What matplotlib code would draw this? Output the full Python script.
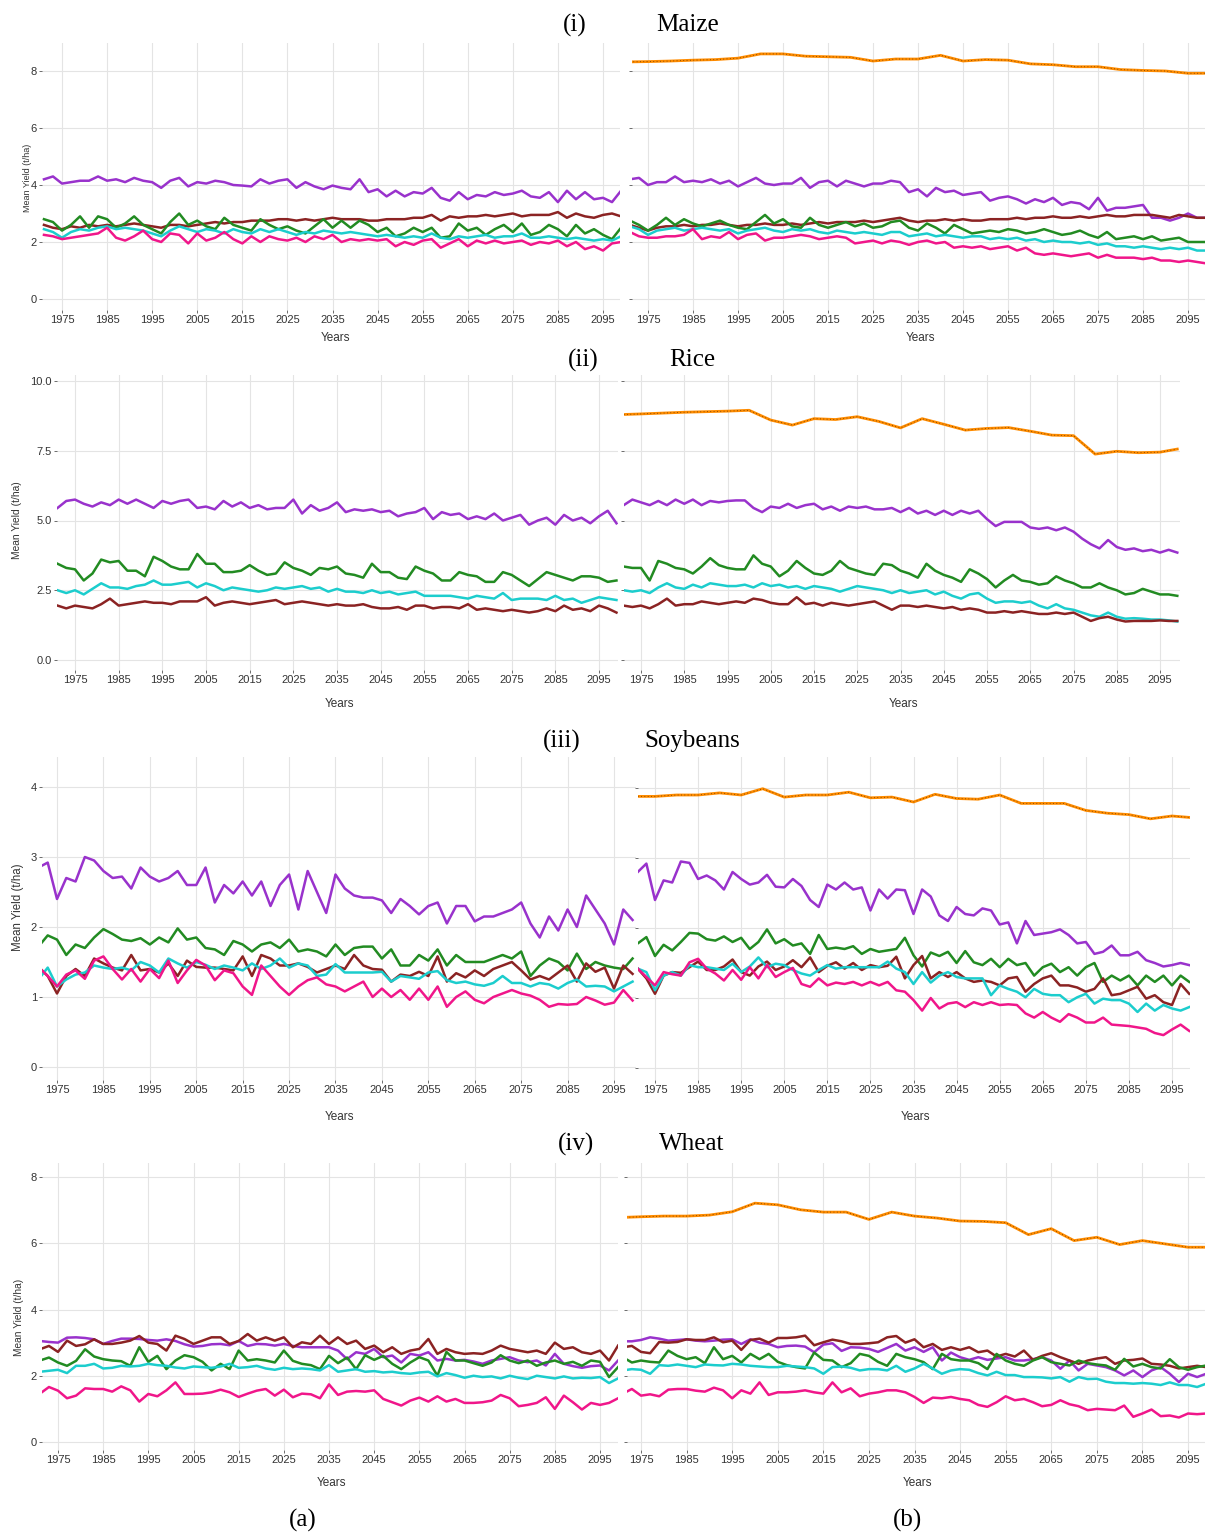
import matplotlib
matplotlib.use("Agg")
import matplotlib.pyplot as plt

plt.rcParams["font.family"] = ["Liberation Sans", "DejaVu Sans"]

W, H = 1205, 1532

YEARS = list(range(1971, 2100, 2))
ORANGE_YEARS = [1971, 1975, 1980, 1985, 1990, 1995, 2000, 2005, 2010, 2015,
                2020, 2025, 2030, 2035, 2040, 2045, 2050, 2055, 2060, 2065,
                2070, 2075, 2080, 2085, 2090, 2095, 2099]
DECADE_TICKS = list(range(1975, 2100, 10))

PURPLE = "#9932CC"
BROWN = "#8B2323"
GREEN = "#228B22"
CYAN = "#1CCDCD"
PINK = "#F0168A"
ORANGE = "#FF8C00"

# ---- Maize ----
maize_a_purple = [4.2, 4.3, 4.05, 4.1, 4.15, 4.15, 4.3, 4.15, 4.2, 4.1,
                  4.25, 4.15, 4.1, 3.9, 4.15, 4.25, 3.95, 4.1, 4.05, 4.15,
                  4.1, 4.0, 3.98, 3.95, 4.2, 4.05, 4.15, 4.2, 3.9, 4.1,
                  3.95, 3.85, 3.98, 3.9, 3.85, 4.2, 3.75, 3.85, 3.6, 3.8,
                  3.6, 3.75, 3.7, 3.9, 3.55, 3.45, 3.75, 3.5, 3.65, 3.6,
                  3.75, 3.65, 3.7, 3.8, 3.6, 3.55, 3.75, 3.4, 3.8, 3.5,
                  3.75, 3.5, 3.55, 3.4, 3.8]
maize_a_brown = [2.6, 2.5, 2.45, 2.55, 2.5, 2.6, 2.55, 2.6, 2.55, 2.6,
                 2.65, 2.6, 2.55, 2.5, 2.6, 2.6, 2.55, 2.6, 2.65, 2.7,
                 2.65, 2.7, 2.7, 2.75, 2.75, 2.75, 2.8, 2.8, 2.75, 2.8,
                 2.75, 2.8, 2.85, 2.8, 2.8, 2.8, 2.75, 2.75, 2.8, 2.8,
                 2.8, 2.85, 2.85, 2.95, 2.75, 2.9, 2.85, 2.9, 2.9, 2.95,
                 2.9, 2.95, 3.0, 2.9, 2.95, 2.95, 2.95, 3.05, 2.85, 3.0,
                 2.9, 2.85, 2.95, 3.0, 2.9]
maize_a_green = [2.8, 2.7, 2.4, 2.6, 2.9, 2.5, 2.9, 2.8, 2.5, 2.65,
                 2.9, 2.6, 2.45, 2.3, 2.7, 3.0, 2.6, 2.75, 2.55, 2.45,
                 2.85, 2.6, 2.5, 2.4, 2.8, 2.6, 2.45, 2.55, 2.4, 2.3,
                 2.55, 2.8, 2.5, 2.75, 2.5, 2.75, 2.6, 2.35, 2.5, 2.2,
                 2.3, 2.5, 2.35, 2.5, 2.15, 2.2, 2.65, 2.4, 2.5, 2.25,
                 2.45, 2.6, 2.35, 2.65, 2.25, 2.35, 2.6, 2.45, 2.2, 2.6,
                 2.3, 2.45, 2.25, 2.1, 2.5]
maize_a_cyan = [2.45, 2.35, 2.15, 2.35, 2.45, 2.4, 2.5, 2.55, 2.45, 2.5,
                2.45, 2.4, 2.3, 2.2, 2.4, 2.55, 2.45, 2.35, 2.45, 2.4,
                2.3, 2.45, 2.35, 2.3, 2.45, 2.35, 2.45, 2.35, 2.25, 2.35,
                2.3, 2.4, 2.35, 2.3, 2.35, 2.3, 2.25, 2.2, 2.25, 2.2,
                2.15, 2.2, 2.15, 2.3, 2.15, 2.1, 2.2, 2.15, 2.2, 2.25,
                2.15, 2.2, 2.2, 2.3, 2.15, 2.15, 2.2, 2.15, 2.1, 2.15,
                2.1, 2.05, 2.1, 2.05, 2.2]
maize_a_pink = [2.25, 2.2, 2.1, 2.15, 2.2, 2.25, 2.3, 2.5, 2.15, 2.05,
                2.2, 2.4, 2.1, 2.0, 2.3, 2.25, 1.95, 2.3, 2.05, 2.15,
                2.35, 2.1, 1.95, 2.2, 2.0, 2.2, 2.1, 2.05, 2.15, 2.0,
                2.2, 2.1, 2.25, 2.0, 2.1, 2.05, 2.1, 2.05, 2.1, 1.85,
                2.0, 1.9, 2.05, 2.1, 1.8, 1.95, 2.1, 1.85, 2.05, 1.95,
                2.05, 1.95, 2.0, 2.05, 1.9, 2.0, 1.95, 2.05, 1.85, 2.0,
                1.75, 1.85, 1.7, 1.95, 2.0]

maize_b_orange = [8.32, 8.33, 8.35, 8.38, 8.4, 8.45, 8.6, 8.6, 8.52, 8.5,
                  8.48, 8.35, 8.42, 8.42, 8.55, 8.35, 8.4, 8.38, 8.25, 8.22,
                  8.15, 8.15, 8.05, 8.02, 8.0, 7.92, 7.92]
maize_b_purple = [4.2, 4.25, 4.0, 4.1, 4.1, 4.3, 4.1, 4.15, 4.1, 4.2,
                  4.05, 4.15, 3.95, 4.1, 4.25, 4.05, 4.0, 4.05, 4.05, 4.25,
                  3.9, 4.1, 4.15, 3.95, 4.15, 4.05, 3.95, 4.05, 4.05, 4.15,
                  4.1, 3.75, 3.85, 3.6, 3.9, 3.75, 3.8, 3.65, 3.7, 3.75,
                  3.45, 3.55, 3.6, 3.5, 3.35, 3.5, 3.4, 3.55, 3.3, 3.4,
                  3.35, 3.15, 3.55, 3.1, 3.2, 3.2, 3.25, 3.3, 2.85, 2.85,
                  2.75, 2.85, 3.0, 2.85, 2.85]
maize_b_brown = [2.6, 2.5, 2.4, 2.5, 2.55, 2.55, 2.6, 2.55, 2.6, 2.6,
                 2.65, 2.6, 2.55, 2.6, 2.6, 2.65, 2.6, 2.6, 2.65, 2.6,
                 2.65, 2.7, 2.65, 2.7, 2.7, 2.7, 2.75, 2.7, 2.75, 2.8,
                 2.85, 2.75, 2.7, 2.75, 2.75, 2.8, 2.75, 2.8, 2.75, 2.75,
                 2.8, 2.8, 2.8, 2.85, 2.8, 2.85, 2.85, 2.9, 2.85, 2.85,
                 2.9, 2.85, 2.9, 2.95, 2.9, 2.9, 2.95, 2.95, 2.95, 2.9,
                 2.85, 2.95, 2.9, 2.85, 2.85]
maize_b_green = [2.75, 2.6, 2.4, 2.6, 2.85, 2.6, 2.8, 2.65, 2.55, 2.65,
                 2.75, 2.6, 2.5, 2.45, 2.7, 2.95, 2.65, 2.8, 2.55, 2.5,
                 2.85, 2.6, 2.5, 2.6, 2.7, 2.55, 2.65, 2.5, 2.55, 2.7,
                 2.75, 2.5, 2.4, 2.65, 2.5, 2.3, 2.6, 2.45, 2.3, 2.35,
                 2.4, 2.35, 2.45, 2.4, 2.3, 2.35, 2.45, 2.35, 2.25, 2.3,
                 2.4, 2.25, 2.15, 2.35, 2.1, 2.15, 2.2, 2.1, 2.2, 2.05,
                 2.1, 2.15, 2.0, 2.0, 2.0]
maize_b_cyan = [2.55, 2.45, 2.25, 2.4, 2.45, 2.5, 2.4, 2.45, 2.5, 2.45,
                2.4, 2.45, 2.3, 2.4, 2.45, 2.5, 2.4, 2.35, 2.45, 2.4,
                2.45, 2.35, 2.3, 2.4, 2.35, 2.3, 2.35, 2.3, 2.25, 2.35,
                2.35, 2.2, 2.25, 2.3, 2.2, 2.25, 2.2, 2.15, 2.2, 2.2,
                2.1, 2.15, 2.1, 2.15, 2.05, 2.1, 2.0, 2.05, 2.0, 2.0,
                1.95, 2.0, 1.9, 1.95, 1.85, 1.85, 1.8, 1.85, 1.8, 1.75,
                1.8, 1.75, 1.8, 1.7, 1.7]
maize_b_pink = [2.35, 2.2, 2.15, 2.15, 2.2, 2.2, 2.25, 2.45, 2.1, 2.2,
                2.15, 2.35, 2.1, 2.25, 2.3, 2.05, 2.15, 2.15, 2.2, 2.25,
                2.2, 2.1, 2.15, 2.2, 2.15, 1.95, 2.0, 2.05, 1.95, 2.05,
                2.0, 1.9, 2.0, 2.05, 1.95, 2.0, 1.8, 1.85, 1.8, 1.85,
                1.75, 1.8, 1.85, 1.7, 1.8, 1.6, 1.55, 1.6, 1.55, 1.5,
                1.55, 1.6, 1.45, 1.55, 1.45, 1.45, 1.45, 1.4, 1.45, 1.35,
                1.35, 1.3, 1.35, 1.3, 1.25]

# ---- Rice ----
rice_a_purple = [5.45, 5.7, 5.75, 5.6, 5.5, 5.65, 5.55, 5.75, 5.6, 5.75,
                 5.6, 5.45, 5.7, 5.6, 5.7, 5.75, 5.45, 5.5, 5.4, 5.7,
                 5.5, 5.65, 5.45, 5.55, 5.4, 5.45, 5.45, 5.75, 5.25, 5.55,
                 5.35, 5.45, 5.65, 5.3, 5.4, 5.35, 5.4, 5.3, 5.35, 5.15,
                 5.25, 5.3, 5.45, 5.05, 5.3, 5.2, 5.25, 5.05, 5.15, 5.05,
                 5.25, 5.0, 5.1, 5.2, 4.85, 5.0, 5.1, 4.85, 5.2, 5.0,
                 5.1, 4.9, 5.15, 5.35, 4.9]
rice_a_green = [3.45, 3.3, 3.25, 2.85, 3.1, 3.6, 3.5, 3.55, 3.2, 3.2,
                3.0, 3.7, 3.55, 3.35, 3.25, 3.25, 3.8, 3.45, 3.45, 3.15,
                3.15, 3.2, 3.4, 3.2, 3.05, 3.1, 3.5, 3.3, 3.2, 3.05,
                3.3, 3.25, 3.35, 3.1, 3.05, 2.95, 3.45, 3.15, 3.15, 2.95,
                2.9, 3.35, 3.2, 3.1, 2.85, 2.85, 3.15, 3.05, 3.0, 2.8,
                2.8, 3.15, 3.05, 2.85, 2.65, 2.9, 3.15, 3.05, 2.95, 2.85,
                3.0, 3.0, 2.95, 2.8, 2.85]
rice_a_cyan = [2.5, 2.4, 2.5, 2.35, 2.55, 2.75, 2.6, 2.6, 2.55, 2.65,
               2.7, 2.85, 2.7, 2.7, 2.75, 2.8, 2.6, 2.75, 2.65, 2.5,
               2.6, 2.55, 2.5, 2.45, 2.5, 2.6, 2.55, 2.6, 2.65, 2.55,
               2.6, 2.45, 2.55, 2.45, 2.45, 2.4, 2.5, 2.4, 2.45, 2.35,
               2.4, 2.45, 2.3, 2.3, 2.3, 2.3, 2.25, 2.2, 2.3, 2.25,
               2.2, 2.4, 2.15, 2.2, 2.2, 2.2, 2.15, 2.3, 2.15, 2.2,
               2.05, 2.15, 2.25, 2.2, 2.15]
rice_a_brown = [1.95, 1.85, 1.95, 1.9, 1.85, 2.0, 2.2, 1.95, 2.0, 2.05,
                2.1, 2.05, 2.05, 2.0, 2.1, 2.1, 2.1, 2.25, 1.95, 2.05,
                2.1, 2.05, 2.0, 2.05, 2.1, 2.15, 2.0, 2.05, 2.1, 2.05,
                2.0, 1.95, 2.0, 1.95, 1.95, 2.0, 1.9, 1.85, 1.85, 1.9,
                1.8, 1.95, 1.95, 1.85, 1.9, 1.9, 1.85, 2.0, 1.8, 1.85,
                1.8, 1.75, 1.8, 1.75, 1.7, 1.75, 1.85, 1.75, 1.95, 1.8,
                1.85, 1.75, 1.95, 1.85, 1.7]

rice_b_orange = [8.8, 8.82, 8.85, 8.88, 8.9, 8.92, 8.95, 8.6, 8.42, 8.65,
                 8.62, 8.72, 8.55, 8.32, 8.65, 8.45, 8.24, 8.3, 8.33, 8.2,
                 8.06, 8.04, 7.38, 7.48, 7.43, 7.45, 7.56]
rice_b_purple = [5.55, 5.75, 5.65, 5.55, 5.7, 5.55, 5.75, 5.6, 5.75, 5.55,
                 5.7, 5.65, 5.7, 5.72, 5.72, 5.45, 5.3, 5.5, 5.45, 5.6,
                 5.45, 5.55, 5.6, 5.4, 5.5, 5.35, 5.5, 5.45, 5.5, 5.4,
                 5.4, 5.45, 5.3, 5.45, 5.25, 5.35, 5.2, 5.35, 5.2, 5.35,
                 5.25, 5.35, 5.05, 4.8, 4.95, 4.95, 4.95, 4.75, 4.7, 4.75,
                 4.65, 4.75, 4.6, 4.35, 4.15, 4.0, 4.3, 4.05, 3.95, 4.0,
                 3.9, 3.95, 3.85, 3.95, 3.85]
rice_b_green = [3.35, 3.3, 3.3, 2.85, 3.55, 3.45, 3.3, 3.25, 3.1, 3.35,
                3.65, 3.4, 3.3, 3.25, 3.25, 3.75, 3.45, 3.35, 3.0, 3.2,
                3.55, 3.3, 3.1, 3.05, 3.2, 3.55, 3.3, 3.2, 3.1, 3.05,
                3.45, 3.4, 3.2, 3.1, 2.95, 3.45, 3.2, 3.05, 2.95, 2.8,
                3.25, 3.1, 2.9, 2.6, 2.85, 3.05, 2.85, 2.8, 2.7, 2.75,
                3.0, 2.85, 2.75, 2.6, 2.6, 2.75, 2.6, 2.5, 2.35, 2.4,
                2.55, 2.45, 2.35, 2.35, 2.3]
rice_b_cyan = [2.5, 2.45, 2.5, 2.4, 2.6, 2.75, 2.6, 2.55, 2.7, 2.6,
               2.75, 2.7, 2.65, 2.65, 2.7, 2.6, 2.75, 2.65, 2.7, 2.6,
               2.65, 2.55, 2.65, 2.6, 2.55, 2.45, 2.55, 2.65, 2.6, 2.55,
               2.5, 2.4, 2.5, 2.4, 2.45, 2.5, 2.35, 2.45, 2.3, 2.2,
               2.35, 2.4, 2.2, 2.05, 2.1, 2.1, 2.05, 2.1, 1.95, 1.85,
               2.0, 1.85, 1.8, 1.7, 1.6, 1.55, 1.7, 1.55, 1.48, 1.5,
               1.48, 1.45, 1.45, 1.42, 1.38]
rice_b_brown = [1.95, 1.9, 1.95, 1.85, 2.0, 2.2, 1.95, 2.0, 2.0, 2.1,
                2.05, 2.0, 2.05, 2.1, 2.05, 2.2, 2.15, 2.05, 2.0, 2.0,
                2.25, 2.0, 2.05, 1.95, 2.05, 2.0, 1.95, 2.0, 2.05, 2.1,
                1.95, 1.8, 1.95, 1.95, 1.9, 1.95, 1.9, 1.85, 1.9, 1.8,
                1.85, 1.8, 1.7, 1.7, 1.75, 1.7, 1.75, 1.7, 1.65, 1.65,
                1.7, 1.65, 1.7, 1.55, 1.4, 1.5, 1.55, 1.45, 1.38, 1.4,
                1.4, 1.4, 1.42, 1.4, 1.4]

# ---- Soybeans ----
soy_a_purple = [2.85, 2.92, 2.4, 2.7, 2.65, 3.0, 2.95, 2.8, 2.7, 2.72,
                2.55, 2.85, 2.72, 2.65, 2.7, 2.8, 2.6, 2.6, 2.85, 2.35,
                2.6, 2.48, 2.65, 2.45, 2.65, 2.3, 2.6, 2.75, 2.25, 2.8,
                2.5, 2.2, 2.75, 2.55, 2.45, 2.42, 2.42, 2.38, 2.2, 2.4,
                2.3, 2.18, 2.3, 2.35, 2.05, 2.3, 2.3, 2.08, 2.15, 2.15,
                2.2, 2.25, 2.35, 2.05, 1.85, 2.15, 1.95, 2.25, 2.0, 2.45,
                2.25, 2.05, 1.75, 2.25, 2.1]
soy_a_green = [1.72, 1.88, 1.82, 1.6, 1.75, 1.7, 1.85, 1.97, 1.9, 1.82,
               1.8, 1.84, 1.75, 1.85, 1.78, 1.98, 1.82, 1.85, 1.7, 1.68,
               1.6, 1.8, 1.75, 1.65, 1.75, 1.78, 1.7, 1.82, 1.65, 1.68,
               1.65, 1.58, 1.75, 1.6, 1.7, 1.72, 1.72, 1.55, 1.68, 1.45,
               1.45, 1.6, 1.52, 1.68, 1.45, 1.6, 1.5, 1.5, 1.5, 1.55,
               1.6, 1.55, 1.65, 1.3, 1.45, 1.55, 1.5, 1.38, 1.62, 1.4,
               1.5, 1.45, 1.42, 1.4, 1.55]
soy_a_brown = [1.43, 1.3, 1.05, 1.3, 1.4, 1.3, 1.55, 1.48, 1.42, 1.38,
               1.6, 1.38, 1.4, 1.35, 1.48, 1.3, 1.52, 1.43, 1.42, 1.42,
               1.4, 1.38, 1.58, 1.3, 1.6, 1.55, 1.45, 1.45, 1.48, 1.43,
               1.35, 1.4, 1.45, 1.4, 1.6, 1.45, 1.4, 1.39, 1.22, 1.32,
               1.3, 1.36, 1.3, 1.58, 1.22, 1.34, 1.28, 1.38, 1.3, 1.4,
               1.45, 1.5, 1.38, 1.25, 1.3, 1.25, 1.35, 1.45, 1.22, 1.48,
               1.36, 1.42, 1.12, 1.45, 1.33]
soy_a_cyan = [1.25, 1.42, 1.15, 1.25, 1.32, 1.35, 1.45, 1.42, 1.4, 1.42,
              1.38, 1.5, 1.45, 1.35, 1.55, 1.48, 1.42, 1.5, 1.46, 1.4,
              1.45, 1.42, 1.38, 1.48, 1.4, 1.45, 1.55, 1.42, 1.48, 1.45,
              1.3, 1.32, 1.47, 1.35, 1.35, 1.35, 1.35, 1.36, 1.22, 1.3,
              1.28, 1.26, 1.35, 1.37, 1.24, 1.2, 1.22, 1.18, 1.16, 1.2,
              1.3, 1.2, 1.2, 1.15, 1.2, 1.18, 1.12, 1.2, 1.25, 1.15,
              1.16, 1.15, 1.08, 1.15, 1.22]
soy_a_pink = [1.43, 1.3, 1.15, 1.32, 1.38, 1.26, 1.52, 1.58, 1.4, 1.25,
              1.4, 1.22, 1.4, 1.27, 1.52, 1.2, 1.38, 1.53, 1.45, 1.24,
              1.38, 1.34, 1.15, 1.03, 1.45, 1.3, 1.15, 1.03, 1.15, 1.24,
              1.28, 1.18, 1.15, 1.08, 1.15, 1.22, 1.0, 1.12, 1.0, 1.1,
              0.96, 1.12, 0.96, 1.15, 0.86, 1.0, 1.08, 0.96, 0.91, 1.0,
              1.05, 1.1, 1.05, 1.02, 0.96, 0.86, 0.9, 0.89, 0.9, 1.0,
              0.95, 0.89, 0.92, 1.1, 0.95]

soy_b_orange = [3.88, 3.88, 3.9, 3.9, 3.93, 3.9, 3.99, 3.87, 3.9, 3.9,
                3.94, 3.86, 3.87, 3.8, 3.91, 3.85, 3.84, 3.9, 3.78, 3.78,
                3.78, 3.68, 3.64, 3.62, 3.56, 3.6, 3.58]
soy_b_purple = [2.8, 2.92, 2.4, 2.68, 2.65, 2.95, 2.93, 2.7, 2.75, 2.68,
                2.55, 2.8, 2.7, 2.62, 2.65, 2.76, 2.59, 2.58, 2.7, 2.6,
                2.4, 2.3, 2.62, 2.55, 2.65, 2.55, 2.58, 2.25, 2.55, 2.42,
                2.55, 2.54, 2.2, 2.55, 2.45, 2.18, 2.1, 2.3, 2.2, 2.18,
                2.28, 2.25, 2.05, 2.08, 1.78, 2.1, 1.9, 1.92, 1.94, 1.98,
                1.9, 1.78, 1.8, 1.63, 1.66, 1.75, 1.61, 1.61, 1.66, 1.54,
                1.5, 1.45, 1.47, 1.5, 1.47]
soy_b_green = [1.78, 1.87, 1.6, 1.76, 1.68, 1.8, 1.93, 1.92, 1.84, 1.82,
               1.88, 1.8, 1.86, 1.7, 1.8, 1.98, 1.78, 1.84, 1.75, 1.78,
               1.63, 1.9, 1.7, 1.72, 1.7, 1.74, 1.63, 1.7, 1.66, 1.68,
               1.7, 1.86, 1.61, 1.45, 1.65, 1.6, 1.66, 1.5, 1.67, 1.51,
               1.47, 1.56, 1.44, 1.56, 1.47, 1.5, 1.32, 1.44, 1.49, 1.37,
               1.44, 1.32, 1.44, 1.5, 1.23, 1.32, 1.25, 1.32, 1.18, 1.32,
               1.23, 1.32, 1.18, 1.32, 1.23]
soy_b_brown = [1.42, 1.28, 1.06, 1.32, 1.37, 1.36, 1.44, 1.52, 1.4, 1.4,
               1.45, 1.55, 1.37, 1.32, 1.45, 1.52, 1.4, 1.45, 1.54, 1.44,
               1.58, 1.37, 1.46, 1.51, 1.42, 1.5, 1.4, 1.47, 1.44, 1.46,
               1.59, 1.28, 1.47, 1.6, 1.28, 1.37, 1.3, 1.37, 1.28, 1.23,
               1.25, 1.23, 1.18, 1.28, 1.3, 1.09, 1.2, 1.28, 1.32, 1.18,
               1.18, 1.15, 1.09, 1.13, 1.28, 1.04, 1.06, 1.11, 1.16, 0.99,
               1.04, 0.94, 0.9, 1.2, 1.06]
soy_b_cyan = [1.42, 1.37, 1.11, 1.32, 1.37, 1.32, 1.47, 1.44, 1.44, 1.42,
              1.4, 1.49, 1.37, 1.45, 1.58, 1.44, 1.49, 1.47, 1.4, 1.35,
              1.32, 1.4, 1.47, 1.42, 1.44, 1.44, 1.44, 1.44, 1.44, 1.52,
              1.42, 1.37, 1.2, 1.37, 1.22, 1.32, 1.37, 1.3, 1.28, 1.28,
              1.28, 1.04, 1.18, 1.13, 1.09, 1.01, 1.13, 1.06, 1.04, 1.04,
              0.94, 1.01, 1.06, 0.92, 0.99, 0.97, 0.97, 0.92, 0.8, 0.92,
              0.82, 0.9, 0.85, 0.82, 0.87]
soy_b_pink = [1.42, 1.3, 1.18, 1.37, 1.34, 1.32, 1.51, 1.56, 1.42, 1.35,
              1.25, 1.4, 1.26, 1.44, 1.28, 1.47, 1.3, 1.37, 1.43, 1.2,
              1.16, 1.28, 1.18, 1.22, 1.2, 1.23, 1.18, 1.23, 1.18, 1.23,
              1.11, 1.09, 0.97, 0.82, 1.0, 0.85, 0.92, 0.94, 0.87, 0.94,
              0.9, 0.94, 0.9, 0.91, 0.9, 0.78, 0.72, 0.8, 0.72, 0.66,
              0.77, 0.72, 0.65, 0.65, 0.72, 0.62, 0.61, 0.6, 0.58, 0.56,
              0.5, 0.47, 0.55, 0.62, 0.53]

# ---- Wheat ----
wheat_a_brown = [2.8, 2.9, 2.72, 3.06, 2.9, 2.95, 3.1, 2.96, 2.96, 3.0,
                 3.06, 3.2, 3.0, 2.96, 2.76, 3.21, 3.11, 2.96, 3.06, 3.16,
                 3.16, 2.96, 3.05, 3.26, 3.06, 3.16, 3.06, 3.16, 2.86, 3.01,
                 2.96, 3.21, 2.96, 3.16, 2.96, 3.06, 2.81, 2.91, 2.71, 2.86,
                 2.66, 2.76, 2.81, 3.11, 2.66, 2.81, 2.71, 2.66, 2.68, 2.66,
                 2.76, 2.91, 2.81, 2.76, 2.71, 2.76, 2.66, 3.0, 2.81, 2.86,
                 2.71, 2.66, 2.76, 2.46, 2.91]
wheat_a_purple = [3.05, 3.02, 3.0, 3.15, 3.16, 3.14, 3.1, 2.96, 3.05, 3.12,
                  3.12, 3.11, 3.08, 3.06, 3.1, 3.05, 2.95, 2.88, 2.9, 2.95,
                  2.96, 2.92, 3.05, 2.9, 2.96, 2.95, 2.91, 2.96, 2.9, 2.86,
                  2.86, 2.86, 2.86, 2.76, 2.5, 2.71, 2.66, 2.81, 2.56, 2.61,
                  2.4, 2.66, 2.61, 2.71, 2.46, 2.51, 2.46, 2.48, 2.43, 2.36,
                  2.46, 2.51, 2.56, 2.46, 2.41, 2.46, 2.31, 2.66, 2.36, 2.29,
                  2.24, 2.29, 2.31, 2.16, 2.46]
wheat_a_green = [2.46, 2.55, 2.4, 2.3, 2.45, 2.8, 2.58, 2.5, 2.46, 2.44,
                 2.3, 2.86, 2.42, 2.6, 2.2, 2.46, 2.62, 2.56, 2.42, 2.16,
                 2.36, 2.2, 2.76, 2.46, 2.5, 2.46, 2.4, 2.76, 2.45, 2.36,
                 2.32, 2.2, 2.6, 2.38, 2.55, 2.2, 2.62, 2.48, 2.6, 2.36,
                 2.2, 2.4, 2.56, 2.46, 2.0, 2.72, 2.46, 2.46, 2.38, 2.3,
                 2.4, 2.62, 2.46, 2.38, 2.46, 2.3, 2.4, 2.46, 2.36, 2.42,
                 2.3, 2.46, 2.42, 1.96, 2.26]
wheat_a_cyan = [2.12, 2.15, 2.18, 2.08, 2.3, 2.3, 2.36, 2.22, 2.24, 2.3,
                2.28, 2.3, 2.36, 2.32, 2.3, 2.25, 2.22, 2.28, 2.26, 2.24,
                2.28, 2.36, 2.24, 2.26, 2.3, 2.22, 2.18, 2.24, 2.2, 2.22,
                2.2, 2.16, 2.32, 2.12, 2.16, 2.2, 2.12, 2.14, 2.1, 2.12,
                2.08, 2.06, 2.1, 2.12, 1.98, 2.08, 2.02, 1.94, 2.0, 1.96,
                1.98, 1.92, 2.0, 1.94, 1.9, 2.0, 1.96, 1.92, 1.98, 1.92,
                1.94, 1.93, 1.96, 1.78, 1.92]
wheat_a_pink = [1.46, 1.66, 1.55, 1.32, 1.4, 1.62, 1.6, 1.6, 1.52, 1.68,
                1.56, 1.22, 1.45, 1.38, 1.56, 1.8, 1.45, 1.45, 1.46, 1.5,
                1.58, 1.5, 1.36, 1.46, 1.55, 1.6, 1.4, 1.58, 1.35, 1.46,
                1.44, 1.32, 1.74, 1.42, 1.52, 1.54, 1.52, 1.56, 1.3, 1.2,
                1.1, 1.25, 1.34, 1.22, 1.38, 1.22, 1.3, 1.18, 1.18, 1.2,
                1.25, 1.42, 1.32, 1.08, 1.12, 1.18, 1.35, 1.0, 1.4, 1.2,
                0.98, 1.18, 1.12, 1.18, 1.32]

wheat_b_orange = [6.78, 6.8, 6.82, 6.82, 6.85, 6.95, 7.21, 7.16, 7.01, 6.94,
                  6.94, 6.72, 6.94, 6.82, 6.76, 6.67, 6.66, 6.62, 6.26, 6.44,
                  6.08, 6.18, 5.96, 6.08, 5.98, 5.88, 5.88]
wheat_b_brown = [2.86, 2.9, 2.72, 2.68, 3.02, 3.0, 3.02, 3.1, 3.08, 3.08,
                 3.16, 3.01, 3.06, 2.78, 3.08, 3.12, 3.0, 3.14, 3.14, 3.16,
                 3.21, 2.92, 3.01, 3.09, 3.04, 2.96, 2.96, 2.98, 3.01, 3.16,
                 3.2, 3.0, 3.1, 2.86, 2.96, 2.78, 2.86, 2.78, 2.86, 2.71,
                 2.76, 2.58, 2.66, 2.58, 2.76, 2.48, 2.6, 2.68, 2.56, 2.46,
                 2.36, 2.46, 2.52, 2.56, 2.36, 2.46, 2.48, 2.52, 2.36, 2.34,
                 2.3, 2.22, 2.26, 2.3, 2.26]
wheat_b_purple = [3.04, 3.04, 3.08, 3.16, 3.12, 3.06, 3.08, 3.1, 3.06, 3.04,
                  3.06, 3.09, 3.1, 2.96, 3.1, 3.0, 2.96, 2.86, 2.9, 2.91,
                  2.88, 2.71, 2.94, 2.98, 2.75, 2.86, 2.85, 2.81, 2.72, 2.84,
                  2.96, 2.76, 2.86, 2.72, 2.86, 2.46, 2.7, 2.56, 2.48, 2.56,
                  2.48, 2.52, 2.56, 2.46, 2.46, 2.5, 2.56, 2.46, 2.21, 2.46,
                  2.16, 2.36, 2.31, 2.26, 2.16, 2.01, 2.16, 1.96, 2.16, 2.26,
                  2.06, 1.81, 2.06, 1.96, 2.06]
wheat_b_green = [2.56, 2.4, 2.46, 2.42, 2.4, 2.76, 2.6, 2.5, 2.56, 2.38,
                 2.86, 2.5, 2.6, 2.4, 2.66, 2.5, 2.66, 2.42, 2.32, 2.26,
                 2.22, 2.7, 2.48, 2.46, 2.26, 2.38, 2.66, 2.6, 2.42, 2.3,
                 2.66, 2.56, 2.5, 2.41, 2.2, 2.66, 2.5, 2.46, 2.46, 2.38,
                 2.2, 2.66, 2.46, 2.36, 2.3, 2.46, 2.56, 2.41, 2.36, 2.31,
                 2.46, 2.38, 2.34, 2.31, 2.18, 2.51, 2.28, 2.36, 2.26, 2.22,
                 2.5, 2.26, 2.18, 2.26, 2.31]
wheat_b_cyan = [2.16, 2.2, 2.18, 2.06, 2.32, 2.3, 2.34, 2.3, 2.26, 2.34,
                2.32, 2.31, 2.36, 2.34, 2.3, 2.28, 2.26, 2.26, 2.3, 2.28,
                2.26, 2.22, 2.06, 2.26, 2.28, 2.24, 2.16, 2.2, 2.2, 2.16,
                2.3, 2.12, 2.22, 2.36, 2.22, 2.06, 2.16, 2.2, 2.18, 2.08,
                2.01, 2.12, 2.02, 2.02, 1.96, 1.96, 1.95, 1.92, 1.96, 1.82,
                1.96, 1.9, 1.91, 1.82, 1.78, 1.78, 1.76, 1.78, 1.76, 1.72,
                1.8, 1.72, 1.72, 1.66, 1.76]
wheat_b_pink = [1.46, 1.6, 1.4, 1.44, 1.38, 1.58, 1.6, 1.6, 1.55, 1.52,
                1.64, 1.56, 1.32, 1.56, 1.46, 1.8, 1.42, 1.5, 1.5, 1.52,
                1.56, 1.5, 1.46, 1.8, 1.5, 1.62, 1.38, 1.46, 1.5, 1.56,
                1.56, 1.5, 1.36, 1.18, 1.34, 1.32, 1.36, 1.3, 1.26, 1.12,
                1.06, 1.2, 1.38, 1.26, 1.3, 1.2, 1.08, 1.12, 1.26, 1.14,
                1.08, 0.96, 1.0, 0.98, 0.96, 1.1, 0.76, 0.86, 0.98, 0.78,
                0.8, 0.74, 0.86, 0.84, 0.86]

# y ticks per crop
maize_yticks = [0, 2, 4, 6, 8]
rice_yticks = [0.0, 2.5, 5.0, 7.5, 10.0]
rice_ylabels = ["0.0", "2.5", "5.0", "7.5", "10.0"]
soy_yticks = [0, 1, 2, 3, 4]
wheat_yticks = [0, 2, 4, 6, 8]


def _axes_at(fig, box):
    x0, y0, x1, y1 = box
    return fig.add_axes([x0 / W, 1 - y1 / H, (x1 - x0) / W, (y1 - y0) / H])


def _lim(p0, p1, cal):
    # cal = (value_a, pixel_a, value_b, pixel_b)
    a, pa, b, pb = cal
    k = (b - a) / (pb - pa)
    return a + (p0 - pa) * k, a + (p1 - pa) * k


def _fig_text(fig, x, y, s, **kw):
    fig.text(x / W, 1 - y / H, s, ha="center", va="center", **kw)


def _panel(fig, box, xcal, ycal, yticks, ylabels, series, orange=None):
    ax = _axes_at(fig, box)
    x0, y0, x1, y1 = box
    ax.set_xlim(*_lim(x0, x1, xcal))
    ax.set_ylim(*_lim(y1, y0, ycal))

    for spine in ax.spines.values():
        spine.set_visible(False)
    ax.set_xticks(DECADE_TICKS)
    ax.set_yticks(yticks)
    if ylabels is None:
        ax.tick_params(axis="y", labelleft=False)
    else:
        ax.set_yticklabels(ylabels)
    ax.tick_params(length=2.2, width=0.6, color="#555555", labelsize=8,
                   labelcolor="#333333", pad=1.5)
    ax.grid(color="#e4e4e4", lw=0.8)
    ax.set_axisbelow(True)

    if orange is not None:
        ax.plot(ORANGE_YEARS, orange, color=ORANGE, lw=2.0)
        ax.plot(ORANGE_YEARS, orange, color="black", lw=0.6,
                ls=(0, (1, 3)), alpha=0.6)
    for values, color in series:
        ax.plot(YEARS, values, color=color, lw=1.8, solid_joinstyle="round")
    return ax


def main() -> None:
    fig = plt.figure(figsize=(W / 100, H / 100), dpi=100)

    # Maize
    _panel(fig, (42, 43, 620, 310), (1975, 62, 2095, 603), (8, 71, 0, 299),
           maize_yticks, [str(v) for v in maize_yticks],
           [(maize_a_purple, PURPLE), (maize_a_brown, BROWN), (maize_a_green, GREEN),
            (maize_a_cyan, CYAN), (maize_a_pink, PINK)])
    _panel(fig, (632, 43, 1205, 310), (1975, 648, 2095, 1188), (8, 71, 0, 299),
           maize_yticks, None,
           [(maize_b_purple, PURPLE), (maize_b_brown, BROWN), (maize_b_green, GREEN),
            (maize_b_cyan, CYAN), (maize_b_pink, PINK)], maize_b_orange)

    # Rice
    _panel(fig, (57, 375, 618, 670), (1975, 75, 2095, 599), (10, 381, 0, 660),
           rice_yticks, rice_ylabels,
           [(rice_a_purple, PURPLE), (rice_a_green, GREEN), (rice_a_cyan, CYAN),
            (rice_a_brown, BROWN)])
    _panel(fig, (624, 375, 1180, 670), (1975, 641, 2095, 1160), (10, 381, 0, 660),
           rice_yticks, None,
           [(rice_b_purple, PURPLE), (rice_b_green, GREEN), (rice_b_cyan, CYAN),
            (rice_b_brown, BROWN)], rice_b_orange)

    # Soybeans
    _panel(fig, (42, 757, 636, 1080), (1975, 57, 2095, 614), (4, 787, 0, 1067),
           soy_yticks, [str(v) for v in soy_yticks],
           [(soy_a_purple, PURPLE), (soy_a_green, GREEN), (soy_a_brown, BROWN),
            (soy_a_cyan, CYAN), (soy_a_pink, PINK)])
    _panel(fig, (638, 757, 1190, 1080), (1975, 655, 2095, 1172), (4, 788, 0, 1068),
           soy_yticks, None,
           [(soy_b_purple, PURPLE), (soy_b_green, GREEN), (soy_b_brown, BROWN),
            (soy_b_cyan, CYAN), (soy_b_pink, PINK)], soy_b_orange)

    # Wheat
    _panel(fig, (42, 1163, 618, 1450), (1975, 58, 2095, 600), (8, 1177, 0, 1442),
           wheat_yticks, [str(v) for v in wheat_yticks],
           [(wheat_a_purple, PURPLE), (wheat_a_brown, BROWN), (wheat_a_green, GREEN),
            (wheat_a_cyan, CYAN), (wheat_a_pink, PINK)])
    _panel(fig, (627, 1163, 1205, 1450), (1975, 641, 2095, 1188), (8, 1177, 0, 1442),
           wheat_yticks, None,
           [(wheat_b_purple, PURPLE), (wheat_b_brown, BROWN), (wheat_b_green, GREEN),
            (wheat_b_cyan, CYAN), (wheat_b_pink, PINK)], wheat_b_orange)

    serif = dict(family="Liberation Serif", fontsize=18, color="black")
    _fig_text(fig, 575, 25, "(i)", **serif)
    _fig_text(fig, 688, 25, "Maize", **serif)
    _fig_text(fig, 583, 360, "(ii)", **serif)
    _fig_text(fig, 692, 360, "Rice", **serif)
    _fig_text(fig, 562, 741, "(iii)", **serif)
    _fig_text(fig, 692, 741, "Soybeans", **serif)
    _fig_text(fig, 576, 1144, "(iv)", **serif)
    _fig_text(fig, 692, 1144, "Wheat", **serif)
    _fig_text(fig, 303, 1520, "(a)", **serif)
    _fig_text(fig, 908, 1520, "(b)", **serif)

    years_kw = dict(fontsize=8.5, color="#333333")
    for x, y in [(335, 338), (920, 338), (339, 704), (903, 704),
                 (339, 1117), (915, 1117), (331, 1483), (917, 1483)]:
        _fig_text(fig, x, y, "Years", **years_kw)

    for x, y, size in [(27, 178, 6.5), (17, 520, 7.4), (18, 907, 8.3), (19, 1317, 7.3)]:
        _fig_text(fig, x, y, "Mean Yield (t/ha)", rotation=90, fontsize=size,
                  color="#333333")

    fig.savefig("out.png", dpi=100)
    plt.close(fig)


if __name__ == "__main__":
    main()
